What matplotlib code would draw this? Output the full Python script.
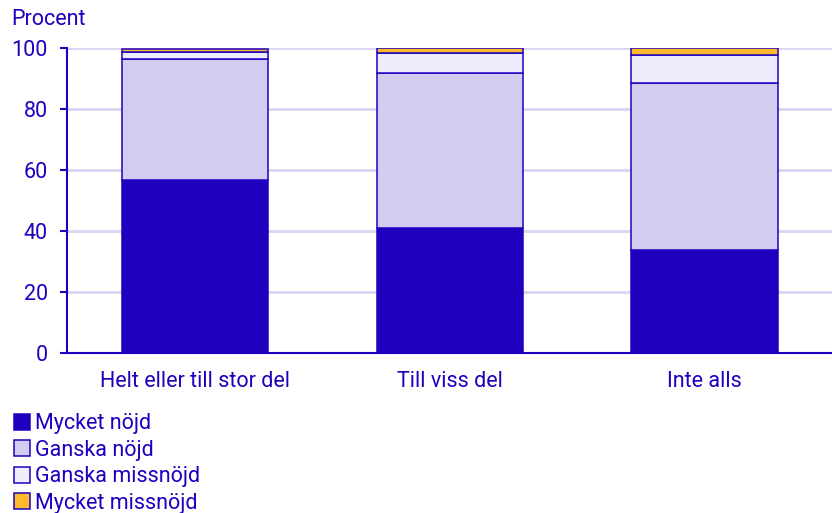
import numpy as np
import matplotlib.pyplot as plt

categories = ["Helt eller till stor del", "Till viss del", "Inte alls"]
series = ["Mycket nöjd", "Ganska nöjd", "Ganska missnöjd", "Mycket missnöjd"]
mycket_nojd = [56.8, 41.0, 33.8]
ganska_nojd = [39.6, 50.8, 54.8]
ganska_missnojd = [2.4, 6.6, 9.1]
mycket_missnojd = [0.8, 1.6, 2.3]

colors = ["#1E00BE", "#D2CDF0", "#EDEDFD", "#FFB92D"]
ink = "#1E00BE"

plt.rcParams["font.family"] = ["Roboto", "DejaVu Sans"]
plt.rcParams["font.size"] = 15.5

fig = plt.figure(figsize=(8.32, 5.13), dpi=100)
ax = fig.add_axes([0.081, 0.312, 0.919, 0.594])

x = np.arange(len(categories))
bottom = np.zeros(len(categories))
for name, vals, c in zip(series, [mycket_nojd, ganska_nojd, ganska_missnojd, mycket_missnojd], colors):
    ax.bar(x, vals, 0.574, bottom=bottom, color=c, edgecolor=ink, linewidth=1.1, label=name, zorder=3)
    bottom += np.array(vals)

ax.set_xlim(-0.5, 2.5)
ax.set_ylim(0, 100)
ax.set_yticks(range(0, 101, 20))
ax.set_xticks(x, categories)
ax.grid(axis="y", color="#D7D5F2", linewidth=2, zorder=0)
for s in ["top", "right"]:
    ax.spines[s].set_visible(False)
ax.spines["left"].set_color(ink)
ax.spines["bottom"].set_color(ink)
ax.spines["left"].set_linewidth(1.5)
ax.spines["bottom"].set_linewidth(1.5)
ax.tick_params(axis="y", colors=ink, length=5, width=1.5, pad=9)
ax.tick_params(axis="x", colors=ink, length=0, pad=13)

fig.text(0.014, 0.962, "Procent", color=ink, va="center", ha="left")

leg = fig.legend(loc="upper left", bbox_to_anchor=(0.017, 0.194), frameon=False,
                 handlelength=0.75, handleheight=0.75, handletextpad=0.2,
                 labelspacing=0.25, borderaxespad=0, borderpad=0)
for t in leg.get_texts():
    t.set_color(ink)

fig.savefig("out.png", dpi=100)
